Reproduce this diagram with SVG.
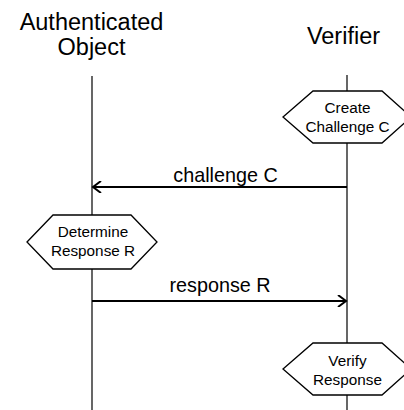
<svg xmlns="http://www.w3.org/2000/svg" width="404" height="410" viewBox="0 0 404 410">
<defs>
<style>
text{font-family:"Liberation Sans",Arial,sans-serif;fill:#000;text-anchor:middle}
.h{font-size:23.5px}
.n{font-size:15.3px}
.l{font-size:19.8px}
.life{stroke:#000;stroke-width:1.2;fill:none}
.hex{fill:#fff;stroke:#000;stroke-width:1.3}
.msg{stroke:#000;stroke-width:2;fill:none}
</style>
<marker id="ah" markerWidth="12" markerHeight="12" refX="10" refY="6" orient="auto" markerUnits="userSpaceOnUse">
<path d="M2,0 L10,6 L2,12" fill="none" stroke="#000" stroke-width="2"/>
</marker>
</defs>
<g id="headers">
<text class="h" x="91.5" y="30">Authenticated</text>
<text class="h" x="91.5" y="55">Object</text>
<text class="h" x="343.5" y="44">Verifier</text>
</g>
<g id="lifelines">
<line class="life" x1="92" y1="76" x2="92" y2="410"/>
<line class="life" x1="347" y1="75" x2="347" y2="410"/>
</g>
<g id="connectors">
<line class="msg" x1="347" y1="187" x2="93" y2="187" marker-end="url(#ah)"/>
<text class="l" x="225.5" y="181.5">challenge C</text>
<line class="msg" x1="92" y1="301" x2="346" y2="301" marker-end="url(#ah)"/>
<text class="l" x="220" y="291.5">response R</text>
</g>
<g id="create">
<polygon class="hex" points="283,117 313,91 382,91 411,117 382,143 313,143"/>
<text class="n" x="347.5" y="113.3">Create</text>
<text class="n" x="347.5" y="131.7">Challenge C</text>
</g>
<g id="determine">
<polygon class="hex" points="27,242 53,215 131,215 157,242 131,269 53,269"/>
<text class="n" x="93" y="237">Determine</text>
<text class="n" x="93" y="255.5">Response R</text>
</g>
<g id="verify">
<polygon class="hex" points="283,369 313,343 382,343 411,369 382,395 313,395"/>
<text class="n" x="347.5" y="366">Verify</text>
<text class="n" x="347.5" y="384.5">Response</text>
</g>
</svg>
